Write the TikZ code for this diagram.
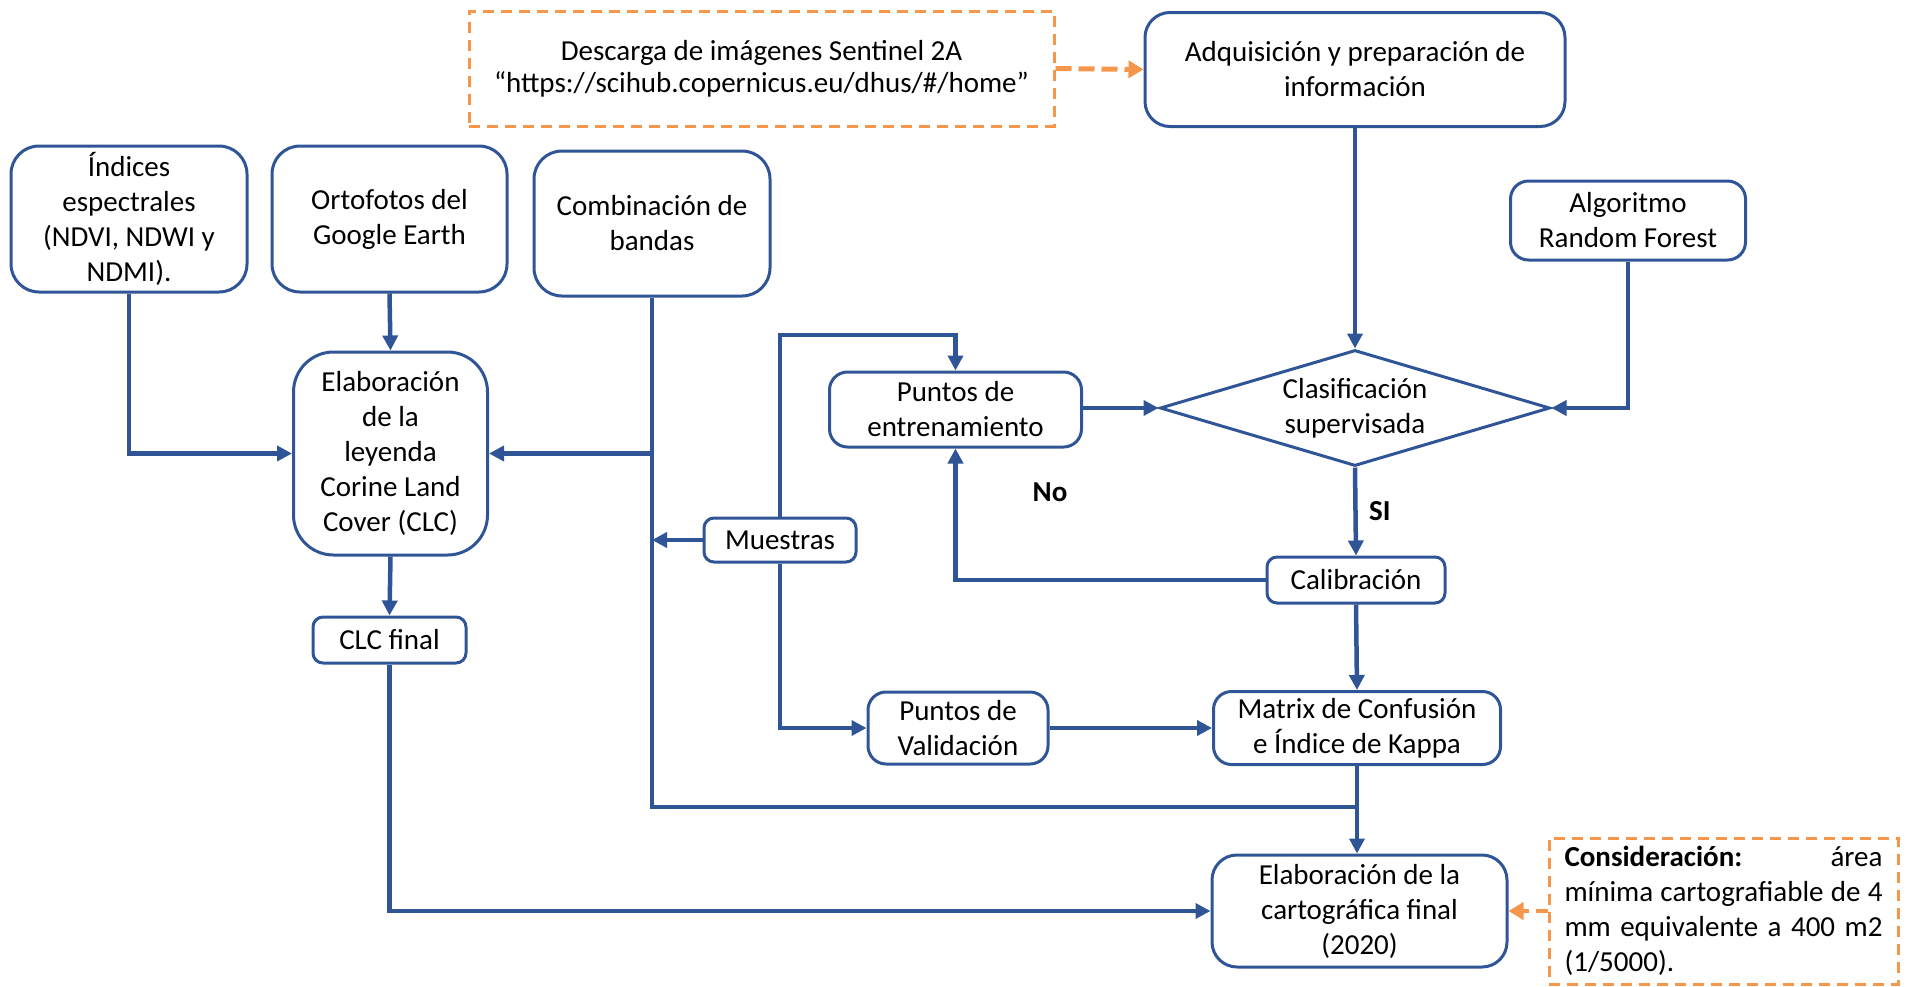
\documentclass[tikz,border=0pt]{standalone}
\usepackage{fontspec}
\setmainfont{Carlito}
\usetikzlibrary{arrows.meta,shapes.geometric,calc}
\definecolor{flowblue}{RGB}{47,85,151}
\definecolor{noteorange}{RGB}{245,150,75}

\begin{document}
\begin{tikzpicture}[x=1pt,y=-1pt,
  every node/.style={font=\fontsize{29}{35}\selectfont, text=black},
  box/.style={draw=flowblue, line width=3pt, rounded corners=#1, align=center, inner sep=0pt},
  box/.default=20pt,
  note/.style={draw=noteorange, line width=3pt, dash pattern=on 11pt off 7pt, inner sep=0pt},
  link/.style={draw=flowblue, line width=4.5pt, -{Triangle[length=15pt,width=15pt]}},
  plain/.style={draw=flowblue, line width=4.5pt},
  notelink/.style={draw=noteorange, line width=5pt, dash pattern=on 16pt off 7pt, -{Triangle[length=15pt,width=17pt]}},
  lbl/.style={font=\fontsize{29}{35}\selectfont\bfseries},
]
% canvas
\path[use as bounding box] (0,0) rectangle (1907,986);

% sources and inputs
\node[note, align=center, minimum width=585pt, minimum height=115pt, font=\fontsize{29}{32}\selectfont]
  (desc) at (761.5,68.5) {Descarga de imágenes Sentinel 2A\\“https://scihub.copernicus.eu/dhus/\#/home”};
\node[box=25pt, minimum width=420pt, minimum height=114pt] (adq) at (1355,69.5)
  {Adquisición y preparación de\\información};
\node[box=28pt, minimum width=236pt, minimum height=146pt] (ind) at (129,219)
  {Índices\\espectrales\\(NDVI, NDWI y\\NDMI).};
\node[box=28pt, minimum width=235pt, minimum height=146pt] (orto) at (389.5,219)
  {Ortofotos del\\Google Earth};
\node[box=28pt, minimum width=236pt, minimum height=145pt] (comb) at (652,223.5)
  {Combinación de\\bandas};
\node[box=18pt, minimum width=235pt, minimum height=79pt] (alg) at (1628,220.5)
  {Algoritmo\\Random Forest};

% processing steps
\node[box=40pt, minimum width=194pt, minimum height=203pt] (ley) at (390.5,453.5)
  {Elaboración\\de la\\leyenda\\Corine Land\\Cover (CLC)};
\node[box=18pt, minimum width=252pt, minimum height=75pt] (pent) at (955.5,409.5)
  {Puntos de\\entrenamiento};
\node[draw=flowblue, line width=3pt, diamond, aspect=3.36, inner sep=0pt, align=center,
  minimum width=390pt, minimum height=116pt] (clas) at (1355,408)
  {Clasificación\\supervisada};
\node[box=10pt, minimum width=152pt, minimum height=44pt] (mue) at (780,540) {Muestras};
\node[box=10pt, minimum width=178pt, minimum height=46pt] (cal) at (1356,580) {Calibración};
\node[box=10pt, minimum width=153pt, minimum height=46pt] (clc) at (389.5,640) {CLC final};
\node[box=18pt, minimum width=180pt, minimum height=72pt] (pval) at (958,728)
  {Puntos de\\Validación};
\node[box=18pt, minimum width=287pt, minimum height=73pt] (mat) at (1357,728)
  {Matrix de Confusión\\e Índice de Kappa};
\node[box=25pt, minimum width=295pt, minimum height=112pt] (cart) at (1359.5,911)
  {Elaboración de la\\cartográfica final\\(2020)};
\node[note, align=left, text width=318pt, minimum width=349pt, minimum height=146pt] (cons) at (1723.5,911)
  {\textbf{Consideración:}\hfill área\\
   mínima\hfill cartografiable\hfill de\hfill 4\\
   mm\hfill equivalente\hfill a\hfill 400\hfill m2\\
   (1/5000).};

% decision labels
\node[lbl] (nolbl) at (1050,492) {No};

% connectors
\coordinate (bj) at (652,807);
\coordinate (mtop) at (780,335);

\draw[notelink] (desc.east) -- (adq.west);
\draw[link] (ind.south) |- (ley.west);
\draw[link] (orto.south) -- (ley.north);
\draw[plain] (comb.south) -- (bj) -- (bj -| mat.south);
\draw[link] (comb.south |- ley.east) -- (ley.east);
\draw[link] (mue.west) -- (mue.west -| comb.south);
\draw[link] (mue.north) -- (mtop) -| (pent.north);
\draw[link] (mue.south) |- (pval.west);
\draw[link] (clas.west -| pent.east) -- (clas.west);
\draw[link] (adq.south) -- (clas.north);
\draw[link] (alg.south) |- (clas.east);
\draw[link] (clas.south) -- node[lbl, right=8pt] {SI} (cal.north);
\draw[link] (cal.west) -| (pent.south);
\draw[link] (cal.south) -- (mat.north);
\draw[link] (pval.east) -- (mat.west);
\draw[link] (mat.south) -- (mat.south |- cart.north);
\draw[link] (ley.south) -- (clc.north);
\draw[link] (clc.south) |- (cart.west);
\draw[notelink, line width=4pt, dash pattern=on 12pt off 7pt] (cons.west) -- (cart.east);
\end{tikzpicture}
\end{document}
